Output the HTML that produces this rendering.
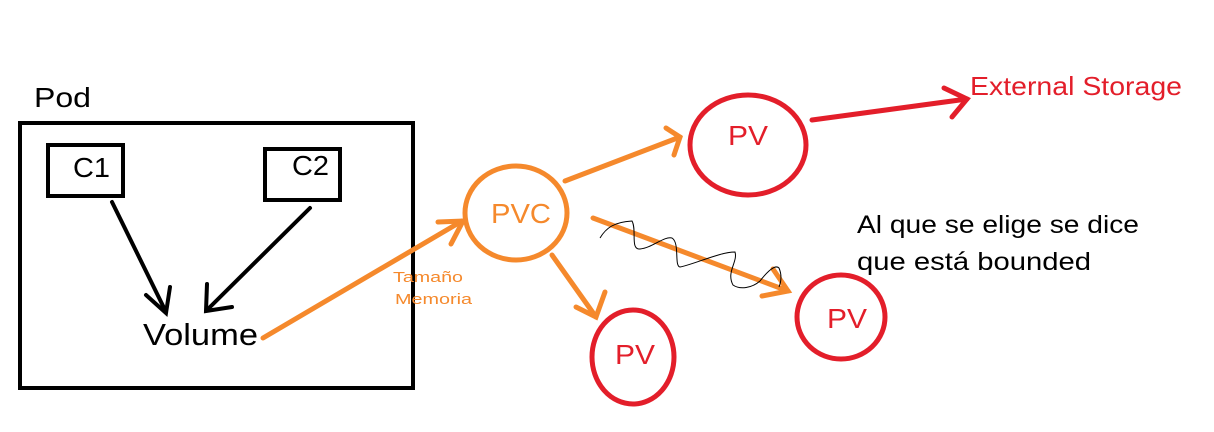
<!DOCTYPE html>
<html><head><meta charset="utf-8"><style>
html,body{margin:0;padding:0;background:#fff;width:1214px;height:432px;overflow:hidden}
svg{display:block}
text{font-family:"Liberation Sans","DejaVu Sans",sans-serif}
</style></head><body>
<svg width="1214" height="432" viewBox="0 0 1214 432" xmlns="http://www.w3.org/2000/svg">
<!-- Pod -->
<text x="34" y="107" font-size="28" fill="#000" textLength="57" lengthAdjust="spacingAndGlyphs">Pod</text>
<rect x="20" y="123" width="393" height="265" fill="none" stroke="#000" stroke-width="4"/>
<rect x="48" y="145" width="75" height="51" fill="none" stroke="#000" stroke-width="4"/>
<text x="73" y="177" font-size="28" fill="#000" textLength="37" lengthAdjust="spacingAndGlyphs">C1</text>
<rect x="265" y="149" width="75" height="51" fill="none" stroke="#000" stroke-width="4"/>
<text x="292" y="175" font-size="28" fill="#000" textLength="37" lengthAdjust="spacingAndGlyphs">C2</text>
<text x="143" y="345" font-size="31" fill="#000" textLength="115" lengthAdjust="spacingAndGlyphs">Volume</text>
<g stroke="#000" stroke-width="4" fill="none" stroke-linecap="round">
<line x1="112" y1="202" x2="166" y2="312"/>
<polyline points="146,295 166,313 170,287"/>
<line x1="310" y1="208" x2="207" y2="310"/>
<polyline points="207,284 206,311 232,307"/>
</g>
<!-- orange -->
<g stroke="#f5892c" stroke-width="5" fill="none" stroke-linecap="round">
<line x1="263" y1="338" x2="462" y2="221"/>
<polyline points="438,222 463,221 451,244"/>
<line x1="565" y1="181" x2="680" y2="137"/>
<polyline points="666,128 680,137 674,155"/>
<line x1="552" y1="255" x2="596" y2="317"/>
<polyline points="576,307 596,317 605,292"/>
<line x1="593" y1="218" x2="788" y2="291"/>
<polyline points="762,296 788,291 773,269"/>
</g>
<ellipse cx="516" cy="213" rx="51" ry="47" fill="none" stroke="#f5892c" stroke-width="5"/>
<text x="491" y="223" font-size="28" fill="#f5892c" textLength="60" lengthAdjust="spacingAndGlyphs">PVC</text>
<text x="393" y="282" font-size="15" fill="#f5892c" textLength="70" lengthAdjust="spacingAndGlyphs">Tamaño</text>
<text x="395" y="304" font-size="15" fill="#f5892c" textLength="77" lengthAdjust="spacingAndGlyphs">Memoria</text>
<!-- squiggle -->
<path d="M600,238 C606,228 614,222 632,221 C637,230 630,250 640,249 C652,248 664,236 672,238 C680,243 674,266 680,267 C695,264 720,252 735,252 C738,262 726,272 733,285 C740,290 752,288 760,281 C767,272 775,264 779,268 C782,275 781,282 779,287" fill="none" stroke="#000" stroke-width="1"/>
<!-- red -->
<g stroke="#e31e2a" stroke-width="5" fill="none" stroke-linecap="round">
<ellipse cx="748" cy="145" rx="58" ry="50"/>
<ellipse cx="633" cy="357" rx="41" ry="47"/>
<ellipse cx="841" cy="317" rx="44" ry="42"/>
<line x1="812" y1="120" x2="967" y2="99"/>
<polyline points="944,88 967,99 952,117"/>
</g>
<text x="728" y="145" font-size="28" fill="#e31e2a" textLength="40" lengthAdjust="spacingAndGlyphs">PV</text>
<text x="615" y="364" font-size="28" fill="#e31e2a" textLength="40" lengthAdjust="spacingAndGlyphs">PV</text>
<text x="827" y="328" font-size="28" fill="#e31e2a" textLength="40" lengthAdjust="spacingAndGlyphs">PV</text>
<text x="970" y="95" font-size="26" fill="#e31e2a" textLength="212" lengthAdjust="spacingAndGlyphs">External Storage</text>
<text x="857" y="233" font-size="25" fill="#000" textLength="282" lengthAdjust="spacingAndGlyphs">Al que se elige se dice</text>
<text x="857" y="270" font-size="25" fill="#000" textLength="234" lengthAdjust="spacingAndGlyphs">que está bounded</text>
</svg>
</body></html>
